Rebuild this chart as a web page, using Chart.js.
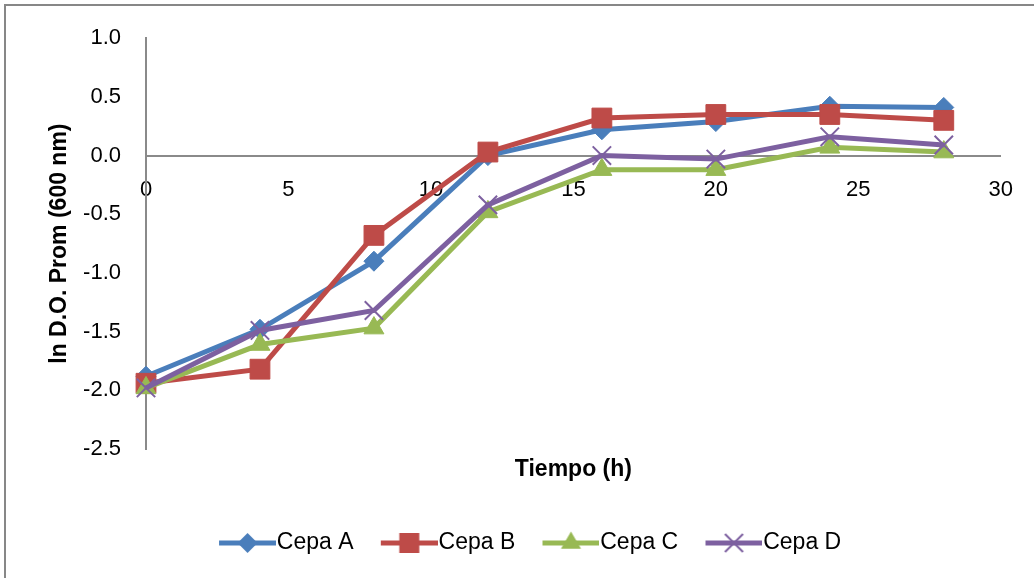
<!DOCTYPE html>
<html>
<head>
<meta charset="utf-8">
<script src="https://cdn.jsdelivr.net/npm/chart.js@4.4.0/dist/chart.umd.min.js"></script>
<style>
html,body{margin:0;padding:0;background:#fff;}
#wrap{width:1034px;height:578px;position:relative;}
</style>
</head>
<body>
<div id="wrap"><canvas id="c" width="1034" height="578"></canvas></div>
<script>
// ---- data ----
const timeHours = [0, 4, 8, 12, 16, 20, 24, 28];
const cepaA = [-1.88, -1.48, -0.90, 0.00, 0.22, 0.29, 0.42, 0.41];
const cepaB = [-1.94, -1.82, -0.68, 0.03, 0.32, 0.35, 0.35, 0.30];
const cepaC = [-1.98, -1.61, -1.47, -0.48, -0.12, -0.12, 0.07, 0.03];
const cepaD = [-1.98, -1.49, -1.32, -0.42, 0.00, -0.03, 0.16, 0.09];
const seriesNames = ['Cepa A', 'Cepa B', 'Cepa C', 'Cepa D'];
const xTitle = 'Tiempo (h)';
const yTitle = 'ln D.O. Prom (600 nm)';

// ---- styles ----
const FONT = "'Liberation Sans', Arial, sans-serif";
const colors = ['#4A7EBB', '#BE4B48', '#98B954', '#7D60A0'];
const markers = ['rectRot', 'rect', 'triangle', 'crossRot'];
const radii = [10, 14, 11.5, 13];
const pBorder = [1, 1, 1, 2];
const allSeries = [cepaA, cepaB, cepaC, cepaD];

function makeIcon(i) {
  const cv = document.createElement('canvas');
  cv.width = 85; cv.height = 30;
  const ctx = cv.getContext('2d');
  const c = colors[i];
  ctx.strokeStyle = c; ctx.fillStyle = c;
  ctx.lineWidth = 5;
  ctx.beginPath(); ctx.moveTo(28, 15); ctx.lineTo(85, 15); ctx.stroke();
  const cx = 56.5, cy = 15;
  ctx.beginPath();
  if (i === 0) {
    ctx.moveTo(cx, cy - 10); ctx.lineTo(cx + 10, cy); ctx.lineTo(cx, cy + 10); ctx.lineTo(cx - 10, cy); ctx.closePath(); ctx.fill();
  } else if (i === 1) {
    ctx.rect(cx - 10, cy - 10, 20, 20); ctx.fill();
  } else if (i === 2) {
    ctx.moveTo(cx, cy - 11.5); ctx.lineTo(cx + 10, cy + 5.75); ctx.lineTo(cx - 10, cy + 5.75); ctx.closePath(); ctx.fill();
  } else {
    ctx.lineWidth = 2;
    ctx.moveTo(cx - 9, cy - 9); ctx.lineTo(cx + 9, cy + 9);
    ctx.moveTo(cx + 9, cy - 9); ctx.lineTo(cx - 9, cy + 9);
    ctx.stroke();
  }
  return cv;
}
const icons = seriesNames.map((_, i) => makeIcon(i));

const datasets = seriesNames.map((name, i) => ({
  label: name,
  data: timeHours.map((x, k) => ({ x: x, y: allSeries[i][k] })),
  borderColor: colors[i],
  backgroundColor: colors[i],
  borderWidth: 5,
  pointStyle: markers[i],
  pointRadius: radii[i],
  pointHoverRadius: radii[i],
  pointBorderWidth: pBorder[i],
  pointBorderColor: colors[i],
  pointBackgroundColor: colors[i],
  tension: 0,
  clip: false,
  order: 3 - i
}));

const framePlugin = {
  id: 'frame',
  beforeDraw(chart) {
    const ctx = chart.ctx;
    ctx.save();
    ctx.fillStyle = '#fff';
    ctx.fillRect(0, 0, chart.width, chart.height);
    ctx.strokeStyle = '#878787';
    ctx.lineWidth = 2;
    ctx.beginPath();
    ctx.moveTo(5, 600); ctx.lineTo(5, 5); ctx.lineTo(1040, 5);
    ctx.stroke();
    ctx.restore();
  }
};

new Chart(document.getElementById('c'), {
  type: 'line',
  data: { datasets: datasets },
  plugins: [framePlugin],
  options: {
    responsive: false,
    animation: false,
    events: [],
    color: '#000',
    layout: { padding: { left: 41, right: 32, top: 35, bottom: 13.5 } },
    scales: {
      x: {
        type: 'linear',
        position: { y: 0 },
        min: 0, max: 30,
        grid: { display: false, drawTicks: false },
        border: { display: true, color: '#8A8A8A', width: 2 },
        ticks: {
          stepSize: 5, padding: 21, color: '#000',
          font: { family: FONT, size: 22 },
          maxRotation: 0,
          callback: v => String(v)
        },
        title: { display: false }
      },
      y: {
        type: 'linear',
        position: 'left',
        min: -2.5, max: 1.0,
        grid: { display: false, drawTicks: false },
        border: { display: true, color: '#8A8A8A', width: 2 },
        ticks: {
          stepSize: 0.5, padding: 25, color: '#000',
          font: { family: FONT, size: 22 },
          callback: v => Number(v).toFixed(1)
        },
        title: {
          display: true, text: yTitle, color: '#000',
          font: { family: FONT, size: 23, weight: 'bold' },
          padding: { top: 5, bottom: 0 }
        },
        afterFit(scale) { scale.width = 105; }
      }
    },
    plugins: {
      tooltip: { enabled: false },
      title: {
        display: true, text: xTitle, position: 'bottom', fullSize: false, weight: 500,
        color: '#000',
        font: { family: FONT, size: 23, weight: 'bold' },
        padding: { top: 7.2, bottom: 37.7 }
      },
      legend: {
        display: true, position: 'bottom',
        labels: {
          usePointStyle: true,
          pointStyleWidth: 63.5,
          padding: 10,
          color: '#000',
          font: { family: FONT, size: 23 },
          generateLabels(chart) {
            return chart.data.datasets.map((ds, i) => ({
              text: ds.label,
              pointStyle: icons[i],
              fillStyle: ds.borderColor,
              strokeStyle: ds.borderColor,
              lineWidth: 0,
              fontColor: '#000',
              hidden: false,
              datasetIndex: i
            }));
          }
        }
      }
    }
  }
});
</script>
</body>
</html>
